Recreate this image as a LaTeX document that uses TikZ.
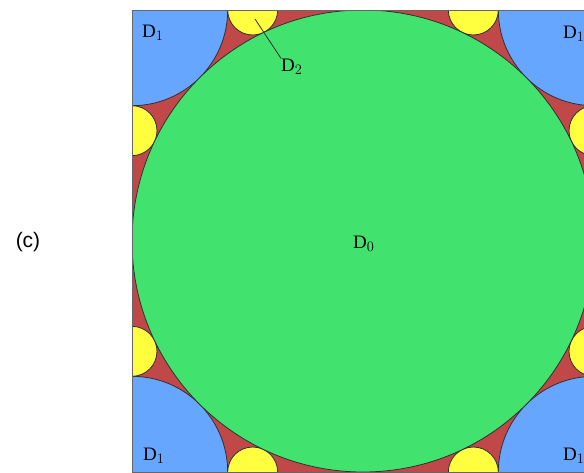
\documentclass[tikz,border=0pt]{standalone}
\usepackage{fontspec}
\setmainfont{Liberation Serif}
\newfontfamily\labelsans{Liberation Sans}
\definecolor{dblue}{HTML}{66A6FF}
\definecolor{dgreen}{HTML}{42E26F}
\definecolor{dred}{HTML}{C04848}
\definecolor{dyellow}{HTML}{FFFF40}
\definecolor{edge}{HTML}{303030}
\begin{document}
\begin{tikzpicture}[x=1pt,y=-1pt,
  outl/.style={draw=edge,line width=0.8pt},
  dlabel/.style={inner sep=0pt,anchor=base west,font=\fontsize{19}{19}\selectfont}]
\useasboundingbox (0,0) rectangle (584,472);
\fill[white] (0,0) rectangle (584,472);
\begin{scope}
\clip (0,0) rectangle (584,472);
\fill[dred] (132,10) rectangle (594,472);
\begin{scope}
\clip (132,10) rectangle (594,472);
% corner disks D1
\foreach \p in {(132,10),(594,10),(132,472),(594,472)}
  \filldraw[fill=dblue,outl] \p circle[radius=95.68];
% edge disks D2
\foreach \p in {(252.67,10),(473.33,10),(252.67,472),(473.33,472),
                (132,130.67),(132,351.33),(594,130.67),(594,351.33)}
  \filldraw[fill=dyellow,outl] \p circle[radius=24.99];
% central disk D0
\filldraw[fill=dgreen,outl] (363,241) circle[radius=231];
\end{scope}
\draw[draw=gray!80!black,line width=1pt] (132,10) rectangle (594,472);
\end{scope}
% labels
\node[dlabel] (d0) at (353,248) {D$_0$};
\node[dlabel] (d1a) at (142,37) {D$_1$};
\node[dlabel] (d1b) at (563,38) {D$_1$};
\node[dlabel] (d1c) at (143,460) {D$_1$};
\node[dlabel] (d1d) at (563,460) {D$_1$};
\node[dlabel] (d2) at (281,71) {D$_2$};
\coordinate (d2pt) at (255,19);
\draw[edge,line width=0.8pt] (d2pt) -- (d2.north west);
\node[inner sep=0pt,font=\labelsans\fontsize{21}{21}\selectfont] (lab) at (28,242) {(c)};
\end{tikzpicture}
\end{document}
